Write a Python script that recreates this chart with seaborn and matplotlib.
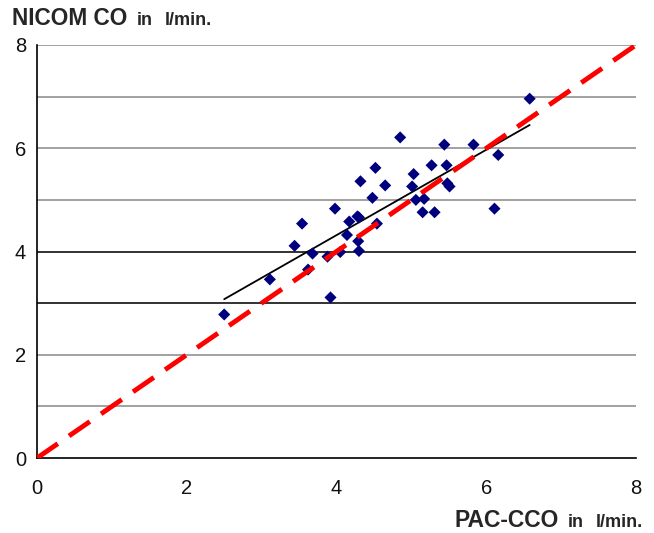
import matplotlib
matplotlib.use("Agg")
import matplotlib.pyplot as plt
import seaborn as sns
import numpy as np
import pandas as pd

pac_cco = [6.58, 4.85, 5.44, 5.83, 6.16, 4.52, 5.27, 5.47, 5.03, 4.32, 4.65, 5.01, 5.48,
           5.51, 4.48, 5.06, 5.17, 5.15, 5.31, 6.11, 3.98, 3.54, 4.17, 4.28, 4.30, 4.54,
           4.14, 4.29, 4.30, 3.44, 3.68, 4.05, 3.88, 3.62, 3.11, 3.92, 2.50]
nicom_co = [6.96, 6.21, 6.07, 6.07, 5.87, 5.62, 5.67, 5.67, 5.50, 5.36, 5.28, 5.26, 5.32,
            5.26, 5.04, 5.00, 5.02, 4.76, 4.76, 4.83, 4.83, 4.54, 4.58, 4.68, 4.66, 4.54,
            4.32, 4.20, 4.01, 4.11, 3.96, 3.99, 3.90, 3.65, 3.46, 3.11, 2.78]
identity = [0, 8]
x_ticks = [0, 2, 4, 6, 8]
y_ticks = [0, 2, 4, 6, 8]

df = pd.DataFrame({"pac": pac_cco, "nicom": nicom_co})

sns.set_style("white")
plt.rcParams['font.family'] = ['Liberation Sans', 'DejaVu Sans']

fig = plt.figure(figsize=(6.54, 5.33), dpi=100)
ax = fig.add_axes([37/654, 75/533, (636-37)/654, (458-45)/533])

for g in range(1, 9):
    c = "#222222" if g in (3, 4) else "#9a9a9a"
    ax.axhline(g, color=c, lw=1.3, zorder=1)

sns.regplot(data=df, x="pac", y="nicom", scatter=False, ci=None, truncate=True,
            color="black", line_kws={"lw": 1.3, "zorder": 3}, ax=ax)
sns.scatterplot(data=df, x="pac", y="nicom", marker="D", s=38, color="#00007f",
                edgecolor="none", zorder=4, ax=ax)
sns.lineplot(x=identity, y=identity, color="#ff0000", lw=3.5, ax=ax, zorder=5,
             dashes=False)
ax.lines[-1].set_dashes([5.2, 2.8])

ax.set_xlim(0, 8)
ax.set_ylim(0, 8)
ax.set_xticks(x_ticks)
ax.set_yticks(y_ticks)
ax.set_xticks(range(0, 9), minor=True)
ax.set_yticks(range(0, 9), minor=True)
ax.tick_params(axis="both", which="both", direction="out", length=5, width=1,
               color="black", labelsize=14.5, labelcolor="#111111", pad=3)
ax.tick_params(axis="x", pad=10)
ax.set_xlabel("")
ax.set_ylabel("")
for s in ("top", "right"):
    ax.spines[s].set_visible(False)
for s in ("left", "bottom"):
    ax.spines[s].set_color("black")
    ax.spines[s].set_linewidth(1.2)

ty = 1 - 25/533
fig.text(12/654, ty, "NICOM CO", fontsize=16.3, fontweight="bold", va="baseline", ha="left")
fig.text(137/654, ty, "in", fontsize=13, fontweight="bold", va="baseline", ha="left")
fig.text(165/654, ty, "l/min.", fontsize=13, fontweight="bold", va="baseline", ha="left")
by = 1 - 527/533
fig.text(455/654, by, "PAC-CCO", fontsize=16.5, fontweight="bold", va="baseline", ha="left")
fig.text(568/654, by, "in", fontsize=13, fontweight="bold", va="baseline", ha="left")
fig.text(596/654, by, "l/min.", fontsize=13, fontweight="bold", va="baseline", ha="left")

fig.savefig("out.png", dpi=100)
